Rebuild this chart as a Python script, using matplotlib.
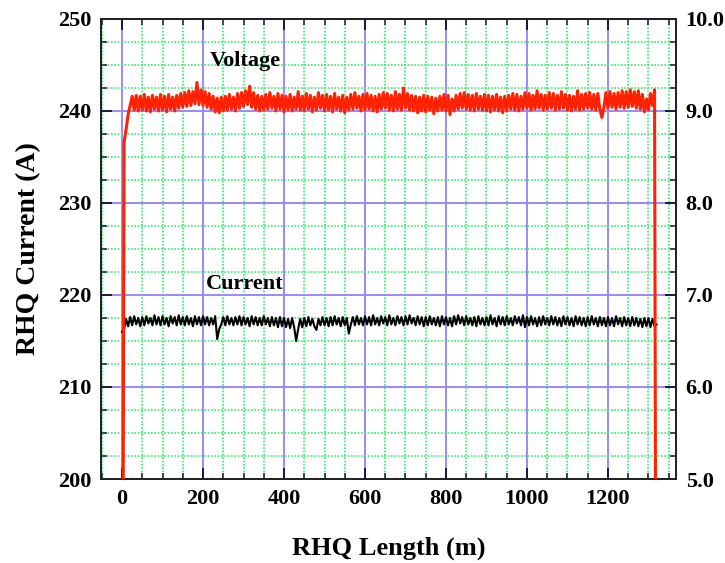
import numpy as np
import matplotlib
matplotlib.use("Agg")
import matplotlib.pyplot as plt
from matplotlib.ticker import MultipleLocator, FormatStrFormatter

# Sampling positions along the tape (m), one reading every 5 m
length_m = np.arange(0, 1325, 5)

# Supply voltage (V), right axis
voltage_v = [
    0.0, 8.66, 8.80, 8.96, 9.06, 9.16, 9.01, 9.17, 9.00, 9.16,
    9.01, 9.18, 9.00, 9.15, 8.99, 9.17, 9.02, 9.15, 9.00, 9.18,
    9.01, 9.16, 8.99, 9.18, 9.02, 9.15, 9.00, 9.17, 9.03, 9.19,
    9.04, 9.20, 9.05, 9.22, 9.06, 9.21, 9.08, 9.31, 9.07, 9.23,
    9.06, 9.21, 9.04, 9.19, 9.02, 9.16, 8.99, 9.14, 8.98, 9.15,
    9.00, 9.16, 9.01, 9.18, 9.02, 9.15, 9.00, 9.19, 9.03, 9.20,
    9.05, 9.22, 9.07, 9.27, 9.04, 9.20, 9.02, 9.17, 9.00, 9.16,
    9.01, 9.18, 9.02, 9.20, 9.03, 9.16, 9.00, 9.19, 9.02, 9.17,
    8.99, 9.16, 9.01, 9.18, 9.00, 9.15, 9.02, 9.21, 9.01, 9.16,
    9.00, 9.19, 9.02, 9.17, 8.99, 9.15, 9.01, 9.20, 9.03, 9.17,
    9.00, 9.18, 9.01, 9.16, 8.99, 9.19, 9.02, 9.15, 9.00, 9.17,
    8.98, 9.15, 9.01, 9.18, 9.02, 9.20, 9.03, 9.16, 9.00, 9.18,
    9.01, 9.19, 9.02, 9.17, 9.00, 9.16, 8.99, 9.18, 9.02, 9.20,
    9.03, 9.19, 9.01, 9.17, 9.00, 9.21, 9.02, 9.18, 9.01, 9.25,
    9.03, 9.19, 9.01, 9.17, 9.00, 9.16, 8.98, 9.15, 9.00, 9.17,
    8.99, 9.16, 9.01, 9.15, 8.97, 9.14, 9.00, 9.16, 9.01, 9.18,
    9.00, 9.17, 8.96, 9.13, 9.00, 9.17, 9.02, 9.19, 9.03, 9.20,
    9.02, 9.18, 9.01, 9.17, 9.00, 9.19, 9.02, 9.16, 9.01, 9.18,
    9.00, 9.17, 8.99, 9.16, 9.01, 9.18, 9.00, 9.15, 8.98, 9.16,
    9.00, 9.17, 9.02, 9.19, 9.01, 9.18, 9.00, 9.16, 9.02, 9.20,
    9.03, 9.19, 9.01, 9.17, 9.02, 9.22, 9.03, 9.18, 9.01, 9.17,
    9.02, 9.20, 9.03, 9.19, 9.01, 9.17, 9.02, 9.21, 9.03, 9.18,
    9.01, 9.17, 9.00, 9.16, 9.02, 9.22, 9.01, 9.18, 9.02, 9.19,
    9.03, 9.20, 9.02, 9.18, 9.01, 9.19, 9.02, 8.93, 9.04, 9.20,
    9.03, 9.21, 9.04, 9.19, 9.02, 9.20, 9.04, 9.22, 9.03, 9.21,
    9.04, 9.23, 9.05, 9.21, 9.03, 9.22, 9.02, 9.18, 8.99, 9.13,
    9.01, 9.19, 9.06, 9.23, 0.0,
]

# Transport current (A), left axis
current_a = [
    216.0, 216.3, 217.4, 216.6, 217.6, 216.7, 217.7, 216.8, 217.5, 216.6,
    217.6, 216.7, 217.7, 216.9, 217.5, 216.7, 217.8, 216.8, 217.6, 216.7,
    217.7, 216.8, 217.5, 216.6, 217.7, 216.9, 217.6, 216.7, 217.8, 216.8,
    217.6, 216.7, 217.7, 216.8, 217.5, 216.6, 217.7, 216.8, 217.6, 216.7,
    217.7, 216.8, 217.6, 216.7, 217.5, 216.8, 217.7, 215.2, 216.3, 216.8,
    217.6, 216.7, 217.7, 216.8, 217.5, 216.7, 217.6, 216.8, 217.7, 216.7,
    217.6, 216.8, 217.5, 216.6, 217.7, 216.8, 217.6, 216.7, 217.5, 216.7,
    217.7, 216.8, 217.5, 216.6, 217.6, 216.7, 217.5, 216.5, 217.6, 216.6,
    217.5, 216.5, 217.4, 216.4, 217.5, 216.5, 215.0, 216.3, 217.4, 216.5,
    217.5, 216.6, 217.6, 216.7, 217.4, 216.6, 216.2, 217.4, 216.7, 217.6,
    216.7, 217.5, 216.6, 217.6, 216.7, 217.7, 216.8, 217.5, 216.6, 217.6,
    216.7, 217.5, 215.8, 216.8, 217.6, 216.7, 217.7, 216.8, 217.5, 216.7,
    217.7, 216.8, 217.6, 216.7, 217.8, 216.8, 217.5, 216.7, 217.7, 216.9,
    217.6, 216.7, 217.8, 216.8, 217.5, 216.7, 217.7, 216.9, 217.6, 216.7,
    217.7, 216.8, 217.8, 216.9, 217.5, 216.7, 217.7, 216.8, 217.6, 216.6,
    217.6, 216.7, 217.7, 216.8, 217.5, 216.7, 217.6, 216.6, 217.7, 216.8,
    217.6, 216.7, 217.5, 216.6, 217.7, 216.8, 217.8, 216.9, 217.6, 216.7,
    217.7, 216.8, 217.5, 216.7, 217.6, 216.6, 217.7, 216.8, 217.5, 216.7,
    217.6, 216.7, 217.8, 216.8, 217.5, 216.6, 217.7, 216.8, 217.6, 216.7,
    217.7, 216.8, 217.5, 216.7, 217.7, 216.9, 217.6, 216.7, 217.8, 216.5,
    217.6, 216.7, 217.7, 216.8, 217.5, 216.6, 217.6, 216.7, 217.7, 216.8,
    217.5, 216.7, 217.7, 216.8, 217.6, 216.7, 217.5, 216.6, 217.7, 216.8,
    217.6, 216.7, 217.5, 216.6, 217.7, 216.8, 217.6, 216.7, 217.5, 216.6,
    217.6, 216.7, 217.7, 216.8, 217.5, 216.6, 217.6, 216.7, 217.5, 216.6,
    217.6, 216.7, 217.5, 216.6, 217.7, 216.8, 217.5, 216.6, 217.6, 216.7,
    217.5, 216.6, 217.6, 216.7, 217.5, 216.6, 217.4, 216.5, 217.5, 216.6,
    217.5, 216.5, 217.4, 216.6, 216.8,
]

x_range = (-52, 1368)
current_range = (200, 250)
voltage_range = (5.0, 10.0)

serif = "Liberation Serif"
label_font = dict(family=serif, weight="bold", size=16)

fig = plt.figure(figsize=(7.25, 5.63), dpi=100)
ax = fig.add_axes([0.1393, 0.1492, 0.7931, 0.8171])
ax2 = ax.twinx()

ax.set_xlim(*x_range)
ax.set_ylim(*current_range)
ax2.set_ylim(*voltage_range)

# Grid: green dotted minor lines, violet major lines
ax.xaxis.set_major_locator(MultipleLocator(200))
ax.xaxis.set_minor_locator(MultipleLocator(50))
ax.yaxis.set_major_locator(MultipleLocator(10))
ax.yaxis.set_minor_locator(MultipleLocator(2.5))
ax2.yaxis.set_major_locator(MultipleLocator(1.0))
ax2.yaxis.set_minor_locator(MultipleLocator(0.25))
ax2.yaxis.set_major_formatter(FormatStrFormatter("%.1f"))

ax.set_axisbelow(True)
ax.grid(which="minor", color="#2ef06a", linestyle=(0, (1, 1)), linewidth=1.2)
ax.grid(which="major", color="#9a88ff", linestyle="-", linewidth=1.4)

for a in (ax, ax2):
    a.tick_params(which="major", direction="in", length=8, width=1.4,
                  color="#1a1a3a", pad=7)
    a.tick_params(which="minor", direction="in", length=4, width=1.1,
                  color="#1a1a3a")
    for s in a.spines.values():
        s.set_linewidth(1.3)
        s.set_color("#222222")
ax.tick_params(axis="x", which="both", top=True)
ax.tick_params(axis="y", which="both", right=False)
ax2.patch.set_visible(False)

for lab in ax.get_xticklabels() + ax.get_yticklabels() + ax2.get_yticklabels():
    lab.set_fontfamily(serif)
    lab.set_fontweight("bold")
    lab.set_fontsize(16)

ax.plot(length_m, current_a, color="black", linewidth=1.5, zorder=3)
ax2.plot(length_m, voltage_v, color="#ff2200", linewidth=2.2, zorder=3)

ax.text(304, 245.4, "Voltage", ha="center", va="center", **label_font)
ax.text(304, 221.2, "Current", ha="center", va="center", **label_font)

ax.set_xlabel("RHQ Length (m)", fontfamily=serif, fontweight="bold",
              fontsize=19, labelpad=20)
ax.set_ylabel("RHQ Current (A)", fontfamily=serif, fontweight="bold",
              fontsize=20, labelpad=12)

fig.savefig("out.png", dpi=100)
